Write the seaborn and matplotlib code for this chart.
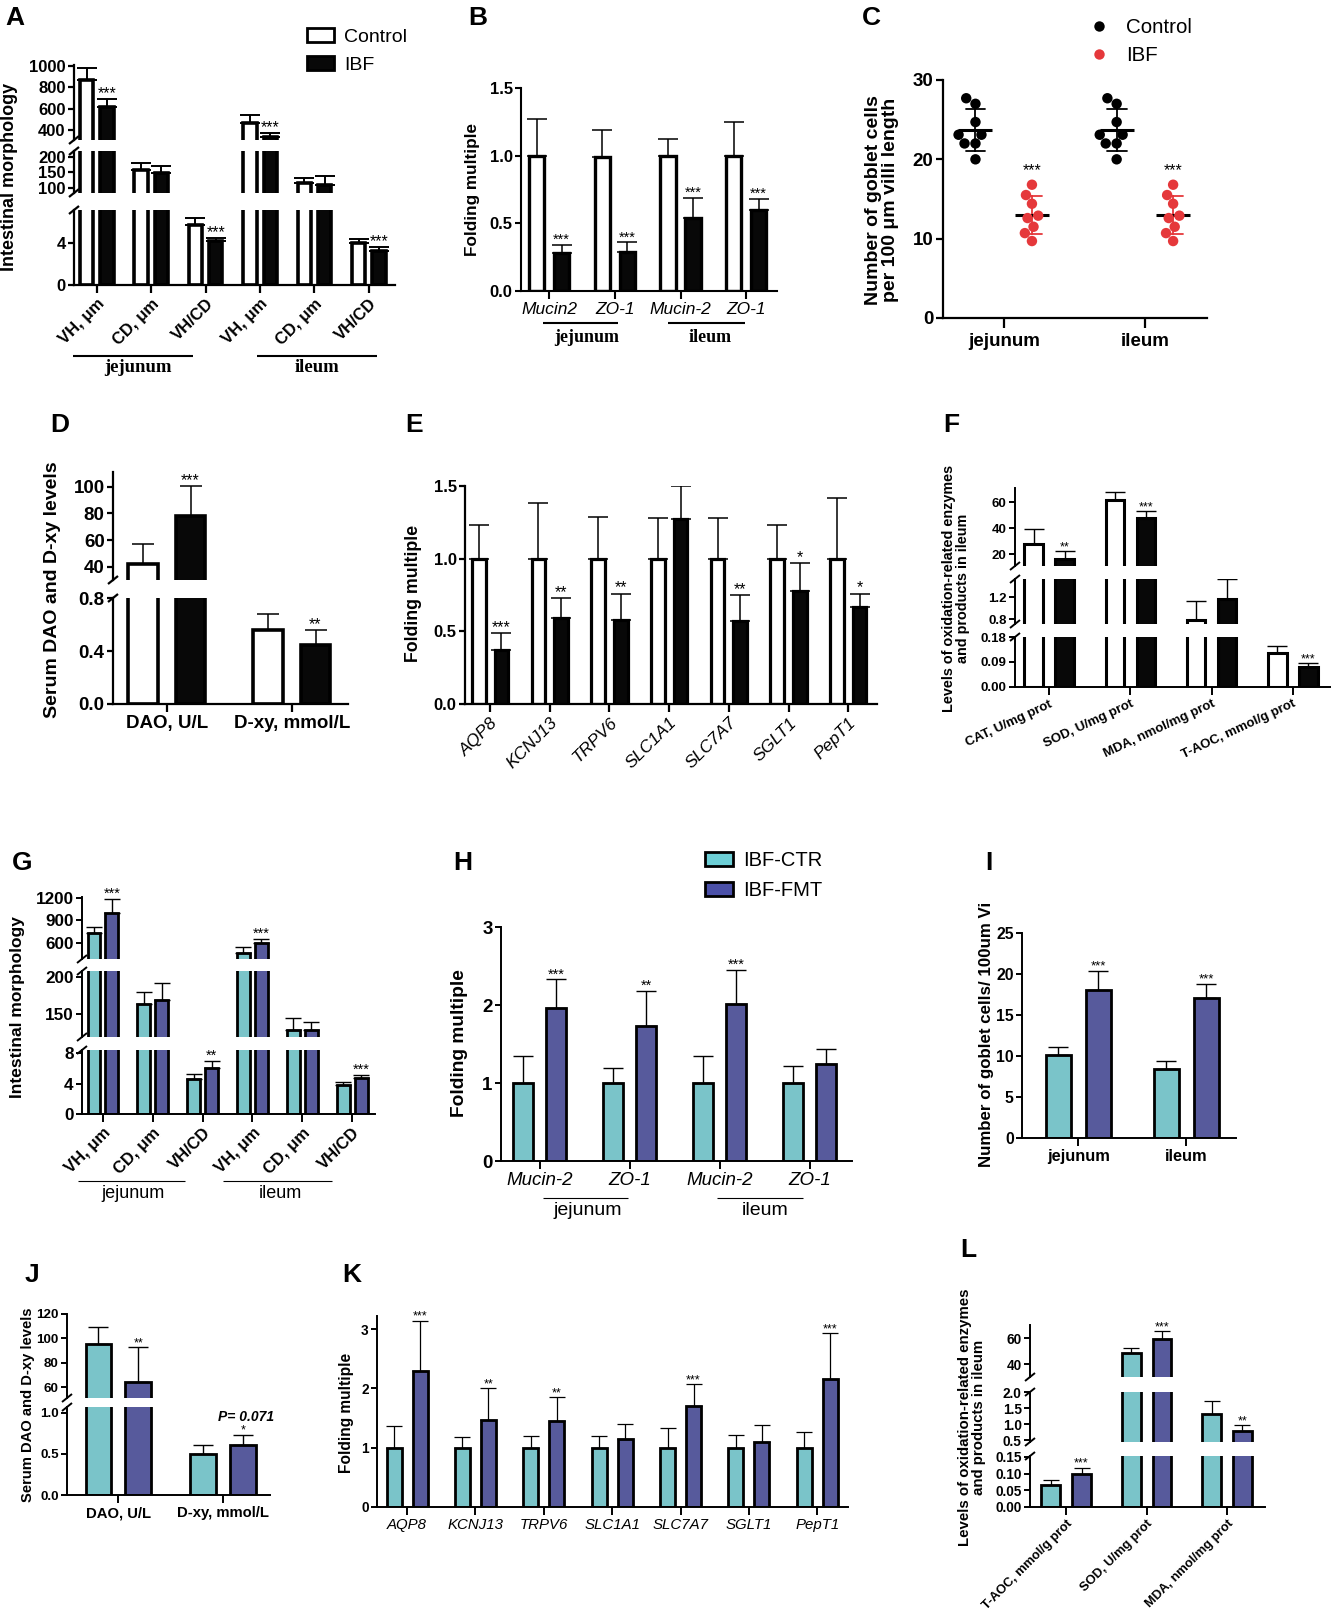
import numpy as np
import pandas as pd
import matplotlib
matplotlib.use("Agg")
import matplotlib.pyplot as plt
import matplotlib.transforms as mtransforms
from matplotlib.lines import Line2D
from matplotlib.patches import Patch
import seaborn as sns

# ---------------- DATA ----------------
# A: intestinal morphology (Control vs IBF)
a_keys = ["jVH", "jCD", "jVHCD", "iVH", "iCD", "iVHCD"]
a_ticklabels = ["VH, μm", "CD, μm", "VH/CD", "VH, μm", "CD, μm", "VH/CD"]
a_control = [870, 158, 5.75, 462, 115, 4.0]
a_control_err = [115, 23, 0.62, 75, 17, 0.41]
a_ibf = [620, 148, 4.19, 333, 111, 3.24]
a_ibf_err = [72, 22, 0.25, 37, 27, 0.37]
a_sig = ["***", "", "***", "***", "", "***"]

# B: gene expression (Mucin2 / ZO-1)
b_keys = ["jMuc", "jZO", "iMuc", "iZO"]
b_ticklabels = ["Mucin2", "ZO-1", "Mucin-2", "ZO-1"]
b_control = [1.0, 0.99, 1.0, 1.0]
b_control_err = [0.27, 0.20, 0.12, 0.25]
b_ibf = [0.28, 0.29, 0.54, 0.60]
b_ibf_err = [0.06, 0.07, 0.15, 0.08]
b_sig = ["***", "***", "***", "***"]

# C: goblet cells (individual animals)
c_regions = ["jejunum", "ileum"]
c_control_jejunum = [27.7, 27.0, 24.7, 23.1, 23.1, 22.0, 22.0, 20.0]
c_ibf_jejunum = [16.8, 15.5, 14.4, 12.9, 12.6, 11.5, 10.7, 9.7]
c_control_ileum = [27.7, 27.0, 24.7, 23.1, 23.1, 22.0, 22.0, 20.0]
c_ibf_ileum = [16.8, 15.5, 14.4, 12.9, 12.6, 11.5, 10.7, 9.7]

# D: serum DAO and D-xy
d_keys = ["DAO, U/L", "D-xy, mmol/L"]
d_control = [42.5, 0.56]
d_control_err = [15, 0.12]
d_ibf = [78, 0.443]
d_ibf_err = [22.5, 0.112]
d_sig = ["***", "**"]

# E: transporter genes
e_keys = ["AQP8", "KCNJ13", "TRPV6", "SLC1A1", "SLC7A7", "SGLT1", "PepT1"]
e_control = [1.0, 1.0, 1.0, 1.0, 1.0, 1.0, 1.0]
e_control_err = [0.23, 0.38, 0.29, 0.28, 0.28, 0.23, 0.42]
e_ibf = [0.37, 0.59, 0.58, 1.27, 0.57, 0.78, 0.67]
e_ibf_err = [0.12, 0.14, 0.18, 0.23, 0.18, 0.19, 0.09]
e_sig = ["***", "**", "**", "", "**", "*", "*"]

# F: oxidation-related (Control vs IBF)
f_keys = ["CAT, U/mg prot", "SOD, U/mg prot", "MDA, nmol/mg prot", "T-AOC, mmol/g prot"]
f_control = [27.7, 61.3, 0.79, 0.122]
f_control_err = [11.4, 6.2, 0.34, 0.026]
f_ibf = [16.1, 48.1, 1.16, 0.072]
f_ibf_err = [6.2, 4.7, 0.37, 0.014]
f_sig = ["**", "***", "", "***"]

# G: intestinal morphology (IBF-CTR vs IBF-FMT)
g_keys = a_keys
g_ticklabels = a_ticklabels
g_ctr = [733, 163, 4.6, 467, 128, 3.77]
g_ctr_err = [80, 17, 0.6, 75, 16, 0.4]
g_fmt = [1000, 169, 6.05, 600, 129, 4.7]
g_fmt_err = [187, 23, 0.95, 58, 10, 0.4]
g_sig = ["***", "", "**", "***", "", "***"]

# H
h_keys = b_keys
h_ticklabels = ["Mucin-2", "ZO-1", "Mucin-2", "ZO-1"]
h_ctr = [1.0, 1.0, 1.0, 1.0]
h_ctr_err = [0.34, 0.19, 0.34, 0.22]
h_fmt = [1.96, 1.73, 2.01, 1.25]
h_fmt_err = [0.37, 0.45, 0.44, 0.18]
h_sig = ["***", "**", "***", ""]

# I
i_keys = ["jejunum", "ileum"]
i_ctr = [10.1, 8.4]
i_ctr_err = [1.0, 1.0]
i_fmt = [18.1, 17.1]
i_fmt_err = [2.3, 1.7]
i_sig = ["***", "***"]

# J
j_keys = ["DAO, U/L", "D-xy, mmol/L"]
j_ctr = [95, 0.494]
j_ctr_err = [14, 0.11]
j_fmt = [64, 0.603]
j_fmt_err = [29, 0.13]
j_sig = ["**", "*"]

# K
k_keys = e_keys
k_ctr = [1.0, 1.0, 0.99, 0.99, 0.99, 1.0, 0.99]
k_ctr_err = [0.37, 0.18, 0.21, 0.21, 0.34, 0.22, 0.27]
k_fmt = [2.29, 1.47, 1.45, 1.15, 1.70, 1.10, 2.15]
k_fmt_err = [0.85, 0.53, 0.40, 0.25, 0.37, 0.29, 0.78]
k_sig = ["***", "**", "**", "", "***", "", "***"]

# L
l_keys = ["T-AOC, mmol/g prot", "SOD, U/mg prot", "MDA, nmol/mg prot"]
l_ctr = [0.065, 48.5, 1.31]
l_ctr_err = [0.016, 3.8, 0.41]
l_fmt = [0.100, 59.2, 0.78]
l_fmt_err = [0.018, 6.2, 0.19]
l_sig = ["***", "***", "**"]

# ---------------- STYLE ----------------
sns.set_style("ticks")
plt.rcParams["font.family"] = ["Liberation Sans", "DejaVu Sans"]
plt.rcParams.update({"axes.edgecolor": "black", "xtick.color": "black",
                     "ytick.color": "black", "text.color": "black",
                     "axes.labelcolor": "black"})

CYAN = "#6dcfd6"
BLUE = "#4b50a8"
RED = "#e5383b"

W, H = 1331, 1618
fig = plt.figure(figsize=(W / 100, H / 100), dpi=100)
PX = mtransforms.Affine2D().scale(1.0 / W, -1.0 / H).translate(0, 1) + fig.transFigure


def rect(x0, y0, x1, y1):
    return [x0 / W, 1 - y1 / H, (x1 - x0) / W, (y1 - y0) / H]


def ptext(x, y, s, **kw):
    fig.text(x, y, s, transform=PX, **kw)


def pline(x0, x1, y0, y1, lw=1.0):
    fig.add_artist(Line2D([x0, x1], [y0, y1], transform=PX, color="black",
                          lw=lw, solid_capstyle="butt"))


def bar_panel(keys, ticklabels, groups, vals, errs, sigs, palette, x0, x1, segs, xlim,
              width=0.76, gap=0.4, edge_lw=2.0, err_lw=1.1, cap=6.0, spine_lw=1.5,
              ytick_fs=10, xtick_kw=None, sig_fs=9, tick_len=4, extra=None):
    df = pd.DataFrame({"cat": [k for g in groups for k in keys],
                       "grp": [g for g in groups for k in keys],
                       "val": [v for vv in vals for v in vv]})
    errd = {(k, g): e for g, ee in zip(groups, errs) for k, e in zip(keys, ee)}
    sigd = {k: s for k, s in zip(keys, sigs)}
    axes = []
    n = len(segs)
    for i, (yt, yb, lo, hi, ticks, tlabels) in enumerate(segs):
        ax = fig.add_axes(rect(x0, yt, x1, yb))
        ax.patch.set_alpha(0)
        sns.barplot(data=df, x="cat", y="val", hue="grp", order=keys, hue_order=groups,
                    palette=palette, width=width, gap=gap, edgecolor="black",
                    linewidth=edge_lw, errorbar=None, legend=False, ax=ax)
        ax.set_xlim(*xlim)
        ax.set_ylim(lo, hi)
        ax.set_xlabel("")
        ax.set_ylabel("")
        ax.set_yticks(ticks)
        ax.set_yticklabels(tlabels, fontsize=ytick_fs, fontweight="bold")
        for s in ("top", "right"):
            ax.spines[s].set_visible(False)
        ax.spines["left"].set_linewidth(spine_lw)
        ax.tick_params(axis="y", length=tick_len, width=spine_lw, pad=2)
        if i < n - 1:
            ax.spines["bottom"].set_visible(False)
            ax.tick_params(axis="x", bottom=False, labelbottom=False)
        else:
            ax.spines["bottom"].set_linewidth(spine_lw)
            ax.tick_params(axis="x", length=tick_len + 2, width=spine_lw, pad=2)
            ax.set_xticks(range(len(keys)))
            ax.set_xticklabels(ticklabels, **(xtick_kw or {}))
        axes.append(ax)
    # error bars and significance marks
    for j, ax in enumerate(axes):
        for p in list(ax.patches):
            w = p.get_width()
            h = p.get_height()
            if not np.isfinite(h) or w <= 0:
                continue
            cx = p.get_x() + w / 2
            idx = int(round(cx))
            grp = groups[0] if cx < idx else groups[1]
            e = errd[(keys[idx], grp)]
            ax.errorbar([cx], [h], yerr=[[0], [e]], fmt="none", ecolor="black",
                        elinewidth=err_lw, capsize=cap, capthick=err_lw, zorder=1)
            top = h + e
            s = sigd[keys[idx]]
            if grp == groups[1] and s:
                owner = None
                for k, sg in enumerate(segs):
                    if sg[2] <= top <= sg[3]:
                        owner = k
                        break
                if owner == j:
                    ax.annotate(s, (cx, top), xytext=(0, -1.5), textcoords="offset points",
                                ha="center", va="bottom", fontsize=sig_fs,
                                annotation_clip=False)
                    if extra and keys[idx] in extra:
                        ax.annotate(extra[keys[idx]], (cx, top), xytext=(2, 8),
                                    textcoords="offset points", ha="center", va="bottom",
                                    fontsize=sig_fs + 1, fontweight="bold",
                                    fontstyle="italic", annotation_clip=False)
    # axis-break marks
    for i in range(n - 1):
        for y in (segs[i][1], segs[i + 1][0]):
            pline(x0 - 5, x0 + 5, y + 4, y - 4, lw=spine_lw)
    return axes


def legend_boxes(labels, colors, x, y, fs, lw):
    hs = [Patch(facecolor=c, edgecolor="black", linewidth=lw) for c in colors]
    fig.legend(hs, labels, loc="upper left", bbox_to_anchor=(x, y), bbox_transform=PX,
               frameon=False, fontsize=fs, handlelength=1.4, handleheight=0.7,
               handletextpad=0.5, labelspacing=0.55, borderpad=0, borderaxespad=0)


def letter(x, y, s):
    ptext(x, y, s, fontsize=19, fontweight="bold", ha="left", va="baseline")


grp1 = ["Control", "IBF"]
pal1 = {"Control": "white", "IBF": "#080808"}
grp2 = ["IBF-CTR", "IBF-FMT"]
pal2 = {"IBF-CTR": CYAN, "IBF-FMT": BLUE}

rot45b = dict(rotation=45, ha="right", rotation_mode="anchor", fontsize=12, fontweight="bold")

# ---------------- A ----------------
bar_panel(a_keys, a_ticklabels, grp1, [a_control, a_ibf], [a_control_err, a_ibf_err], a_sig,
          pal1, 74, 395,
          [(65, 140, 306, 1010, [400, 600, 800, 1000], ["400", "600", "800", "1000"]),
           (151, 193, 84, 219, [100, 150, 200], ["100", "150", "200"]),
           (210, 285, 0, 7.14, [0, 4], ["0", "4"])],
          (-0.42, 5.48), width=0.75, gap=0.35, edge_lw=2.6, err_lw=1.4, cap=7,
          spine_lw=1.6, ytick_fs=12, xtick_kw=rot45b, sig_fs=11.5)
letter(5, 25, "A")
ptext(10, 177, "Intestinal morphology", rotation=90, fontsize=13, fontweight="bold",
      ha="center", va="center")
legend_boxes(grp1, ["white", "#080808"], 307, 28, 14, 2.0)
pline(73, 193, 356, 356, lw=1.5)
pline(257, 377, 356, 356, lw=1.5)
for xx, s in ((138, "jejunum"), (317, "ileum")):
    ptext(xx, 368, s, fontsize=13.5, fontweight="bold", family="Liberation Serif",
          ha="center", va="center")

# ---------------- B ----------------
bar_panel(b_keys, b_ticklabels, grp1, [b_control, b_ibf], [b_control_err, b_ibf_err], b_sig,
          pal1, 521, 777,
          [(88, 291, 0, 1.5, [0, 0.5, 1.0, 1.5], ["0.0", "0.5", "1.0", "1.5"])],
          (-0.43, 3.47), width=0.76, gap=0.38, edge_lw=2.4, err_lw=1.1, cap=7,
          spine_lw=1.5, ytick_fs=12,
          xtick_kw=dict(fontsize=12.5, fontstyle="italic"), sig_fs=10.5)
letter(468, 25, "B")
ptext(473, 190, "Folding multiple", rotation=90, fontsize=12.3, fontweight="bold",
      ha="center", va="center")
pline(543, 618, 323, 323, lw=1.5)
pline(668, 745, 323, 323, lw=1.5)
for xx, s in ((587, "jejunum"), (710, "ileum")):
    ptext(xx, 337, s, fontsize=13, fontweight="bold", family="Liberation Serif",
          ha="center", va="center")

# ---------------- C ----------------
dfc = pd.DataFrame({
    "region": ["jejunum"] * 16 + ["ileum"] * 16,
    "grp": (["Control"] * 8 + ["IBF"] * 8) * 2,
    "val": c_control_jejunum + c_ibf_jejunum + c_control_ileum + c_ibf_ileum,
})
axc = fig.add_axes(rect(943, 80, 1207, 318))
sns.swarmplot(data=dfc, x="region", y="val", hue="grp", order=c_regions,
              hue_order=grp1, dodge=True, palette={"Control": "black", "IBF": RED},
              size=7.5, legend=True, ax=axc, zorder=3)
sns.pointplot(data=dfc, x="region", y="val", hue="grp", order=c_regions,
              hue_order=grp1, dodge=0.4, errorbar="sd", capsize=0.14,
              palette={"Control": "black", "IBF": RED}, markersize=0,
              linestyle="none", err_kws={"linewidth": 1.3}, legend=False, ax=axc)
sns.pointplot(data=dfc, x="region", y="val", hue="grp", order=c_regions,
              hue_order=grp1, dodge=0.4, errorbar=None, markers="_",
              palette={"Control": "black", "IBF": "black"}, markersize=24,
              markeredgewidth=2.2, linestyle="none", legend=False, ax=axc)
leg = axc.get_legend()
handles = leg.legend_handles
labels = [t.get_text() for t in leg.get_texts()]
leg.remove()
fig.legend(handles, labels, loc="upper left", bbox_to_anchor=(1089, 18), bbox_transform=PX,
           frameon=False, fontsize=14.8, handlelength=1.0, handletextpad=0.8,
           labelspacing=0.45, borderpad=0, borderaxespad=0, markerscale=1.0)
axc.set_xlim(-0.43, 1.44)
axc.set_ylim(0, 30)
axc.set_yticks([0, 10, 20, 30])
axc.set_yticklabels(["0", "10", "20", "30"], fontsize=13.5, fontweight="bold")
axc.set_xticks([0, 1])
axc.set_xticklabels(c_regions, fontsize=13.5, fontweight="bold")
axc.set_xlabel("")
axc.set_ylabel("")
for s in ("top", "right"):
    axc.spines[s].set_visible(False)
for s in ("left", "bottom"):
    axc.spines[s].set_linewidth(1.6)
axc.tick_params(axis="y", length=5, width=1.6, pad=2)
axc.tick_params(axis="x", length=7, width=1.6, pad=4)
for k in range(2):
    axc.annotate("***", (k + 0.2, 17.6), ha="center", va="bottom", fontsize=11.5)
letter(862, 25, "C")
ptext(882, 200, "Number of goblet cells\nper 100 μm villi length", rotation=90,
      fontsize=14, fontweight="bold", ha="center", va="center", linespacing=1.0)

# ---------------- D ----------------
bar_panel(d_keys, d_keys, grp1, [d_control, d_ibf], [d_control_err, d_ibf_err], d_sig,
          pal1, 113, 348,
          [(472, 580, 30.2, 111, [40, 60, 80, 100], ["40", "60", "80", "100"]),
           (598, 704, 0, 0.8, [0, 0.4, 0.8], ["0.0", "0.4", "0.8"])],
          (-0.43, 1.45), width=0.76, gap=0.38, edge_lw=2.6, err_lw=1.1, cap=8,
          spine_lw=1.6, ytick_fs=13.5, xtick_kw=dict(fontsize=13.5, fontweight="bold"),
          sig_fs=11.5)
letter(50, 432, "D")
ptext(53, 590, "Serum DAO and D-xy levels", rotation=90, fontsize=14, fontweight="bold",
      ha="center", va="center")

# ---------------- E ----------------
bar_panel(e_keys, e_keys, grp1, [e_control, e_ibf], [e_control_err, e_ibf_err], e_sig,
          pal1, 465, 877,
          [(486, 704, 0, 1.5, [0, 0.5, 1.0, 1.5], ["0.0", "0.5", "1.0", "1.5"])],
          (-0.42, 6.48), width=0.76, gap=0.4, edge_lw=2.3, err_lw=1.1, cap=7,
          spine_lw=1.6, ytick_fs=12,
          xtick_kw=dict(rotation=45, ha="right", rotation_mode="anchor", fontsize=12.5,
                        fontstyle="italic"), sig_fs=11.5)
letter(405, 432, "E")
ptext(413, 593, "Folding multiple", rotation=90, fontsize=12.8, fontweight="bold",
      ha="center", va="center")

# ---------------- F ----------------
bar_panel(f_keys, f_keys, grp1, [f_control, f_ibf], [f_control_err, f_ibf_err], f_sig,
          pal1, 1015, 1331,
          [(488, 566, 10.8, 70.8, [20, 40, 60], ["20", "40", "60"]),
           (579, 624, 0.71, 1.53, [0.8, 1.2], ["0.8", "1.2"]),
           (637, 687, 0, 0.18, [0, 0.09, 0.18], ["0.00", "0.09", "0.18"])],
          (-0.42, 3.47), width=0.76, gap=0.4, edge_lw=2.2, err_lw=1.0, cap=7,
          spine_lw=1.4, ytick_fs=9.5,
          xtick_kw=dict(rotation=25, ha="right", rotation_mode="anchor", fontsize=9.5,
                        fontweight="bold"), sig_fs=9)
letter(943, 432, "F")
ptext(956, 588, "Levels of oxidation-related enzymes\nand products in ileum", rotation=90,
      fontsize=10.4, fontweight="bold", ha="center", va="center", linespacing=1.0)

# ---------------- G ----------------
bar_panel(g_keys, g_ticklabels, grp2, [g_ctr, g_fmt], [g_ctr_err, g_fmt_err], g_sig,
          pal2, 82, 375,
          [(897, 959, 387, 1213, [600, 900, 1200], ["600", "900", "1200"]),
           (971, 1037, 119, 208, [150, 200], ["150", "200"]),
           (1050, 1114, 0, 8.4, [0, 4, 8], ["0", "4", "8"])],
          (-0.42, 5.46), width=0.72, gap=0.28, edge_lw=2.0, err_lw=1.0, cap=6,
          spine_lw=1.4, ytick_fs=12.3, xtick_kw=rot45b, sig_fs=10.5)
letter(12, 870, "G")
ptext(18, 1007, "Intestinal morphology", rotation=90, fontsize=12.5, fontweight="bold",
      ha="center", va="center")
pline(78, 185, 1181, 1181, lw=0.8)
pline(223, 332, 1181, 1181, lw=0.8)
for xx, s in ((133, "jejunum"), (280, "ileum")):
    ptext(xx, 1194, s, fontsize=13, ha="center", va="center")

# ---------------- H ----------------
bar_panel(h_keys, h_ticklabels, grp2, [h_ctr, h_fmt], [h_ctr_err, h_fmt_err], h_sig,
          pal2, 501, 852,
          [(927, 1161, 0, 3, [0, 1, 2, 3], ["0", "1", "2", "3"])],
          (-0.43, 3.47), width=0.74, gap=0.4, edge_lw=2.0, err_lw=1.0, cap=7,
          spine_lw=1.4, ytick_fs=13.5,
          xtick_kw=dict(fontsize=13.5, fontstyle="italic"), sig_fs=10.5)
letter(453, 870, "H")
ptext(460, 1043, "Folding multiple", rotation=90, fontsize=13.8, fontweight="bold",
      ha="center", va="center")
legend_boxes(grp2, [CYAN, BLUE], 705, 851, 14.5, 2.0)
pline(543, 628, 1198, 1198, lw=0.8)
pline(717, 803, 1198, 1198, lw=0.8)
for xx, s in ((588, "jejunum"), (765, "ileum")):
    ptext(xx, 1211, s, fontsize=14, ha="center", va="center")

# ---------------- I ----------------
bar_panel(i_keys, i_keys, grp2, [i_ctr, i_fmt], [i_ctr_err, i_fmt_err], i_sig,
          pal2, 1022, 1236,
          [(933, 1138, 0, 25, [0, 5, 10, 15, 20, 25], ["0", "5", "10", "15", "20", "25"])],
          (-0.52, 1.46), width=0.74, gap=0.38, edge_lw=2.0, err_lw=1.0, cap=7,
          spine_lw=1.4, ytick_fs=11.3,
          xtick_kw=dict(fontsize=11.8, fontweight="bold"), sig_fs=9.5)
letter(985, 870, "I")
ptext(987, 1034, "Number of goblet cells/ 100um Vi", rotation=90, fontsize=12.2,
      fontweight="bold", ha="center", va="center")

# ---------------- J ----------------
bar_panel(j_keys, j_keys, grp2, [j_ctr, j_fmt], [j_ctr_err, j_fmt_err], j_sig,
          pal2, 67, 270,
          [(1314, 1398, 51, 120, [60, 80, 100, 120], ["60", "80", "100", "120"]),
           (1407, 1495, 0, 1.07, [0, 0.5, 1.0], ["0.0", "0.5", "1.0"])],
          (-0.49, 1.45), width=0.76, gap=0.36, edge_lw=2.0, err_lw=1.0, cap=7,
          spine_lw=1.4, ytick_fs=9.6,
          xtick_kw=dict(fontsize=10.7, fontweight="bold"), sig_fs=9,
          extra={"D-xy, mmol/L": "P= 0.071"})
letter(25, 1282, "J")
ptext(28, 1405, "Serum DAO and D-xy levels", rotation=90, fontsize=10.6,
      fontweight="bold", ha="center", va="center")

# ---------------- K ----------------
bar_panel(k_keys, k_keys, grp2, [k_ctr, k_fmt], [k_ctr_err, k_fmt_err], k_sig,
          pal2, 377, 848,
          [(1316, 1507, 0, 3.22, [0, 1, 2, 3], ["0", "1", "2", "3"])],
          (-0.44, 6.45), width=0.76, gap=0.42, edge_lw=2.0, err_lw=0.9, cap=6,
          spine_lw=1.4, ytick_fs=9.8,
          xtick_kw=dict(fontsize=10.8, fontstyle="italic"), sig_fs=9)
letter(342, 1282, "K")
ptext(347, 1413, "Folding multiple", rotation=90, fontsize=11.2, fontweight="bold",
      ha="center", va="center")

# ---------------- L ----------------
bar_panel(l_keys, l_keys, grp2, [l_ctr, l_fmt], [l_ctr_err, l_fmt_err], l_sig,
          pal2, 1030, 1265,
          [(1325, 1377, 30, 70, [40, 60], ["40", "60"]),
           (1392, 1442, 0.45, 2.0, [0.5, 1.0, 1.5, 2.0], ["0.5", "1.0", "1.5", "2.0"]),
           (1456, 1507, 0, 0.153, [0, 0.05, 0.10, 0.15], ["0.00", "0.05", "0.10", "0.15"])],
          (-0.45, 2.47), width=0.76, gap=0.38, edge_lw=2.0, err_lw=0.9, cap=6,
          spine_lw=1.4, ytick_fs=9.8,
          xtick_kw=dict(rotation=45, ha="right", rotation_mode="anchor", fontsize=9.3,
                        fontweight="bold"), sig_fs=9)
letter(960, 1257, "L")
ptext(972, 1417, "Levels of oxidation-related enzymes\nand products in ileum", rotation=90,
      fontsize=10.8, fontweight="bold", ha="center", va="center", linespacing=1.0)

fig.savefig("out.png", dpi=100)
